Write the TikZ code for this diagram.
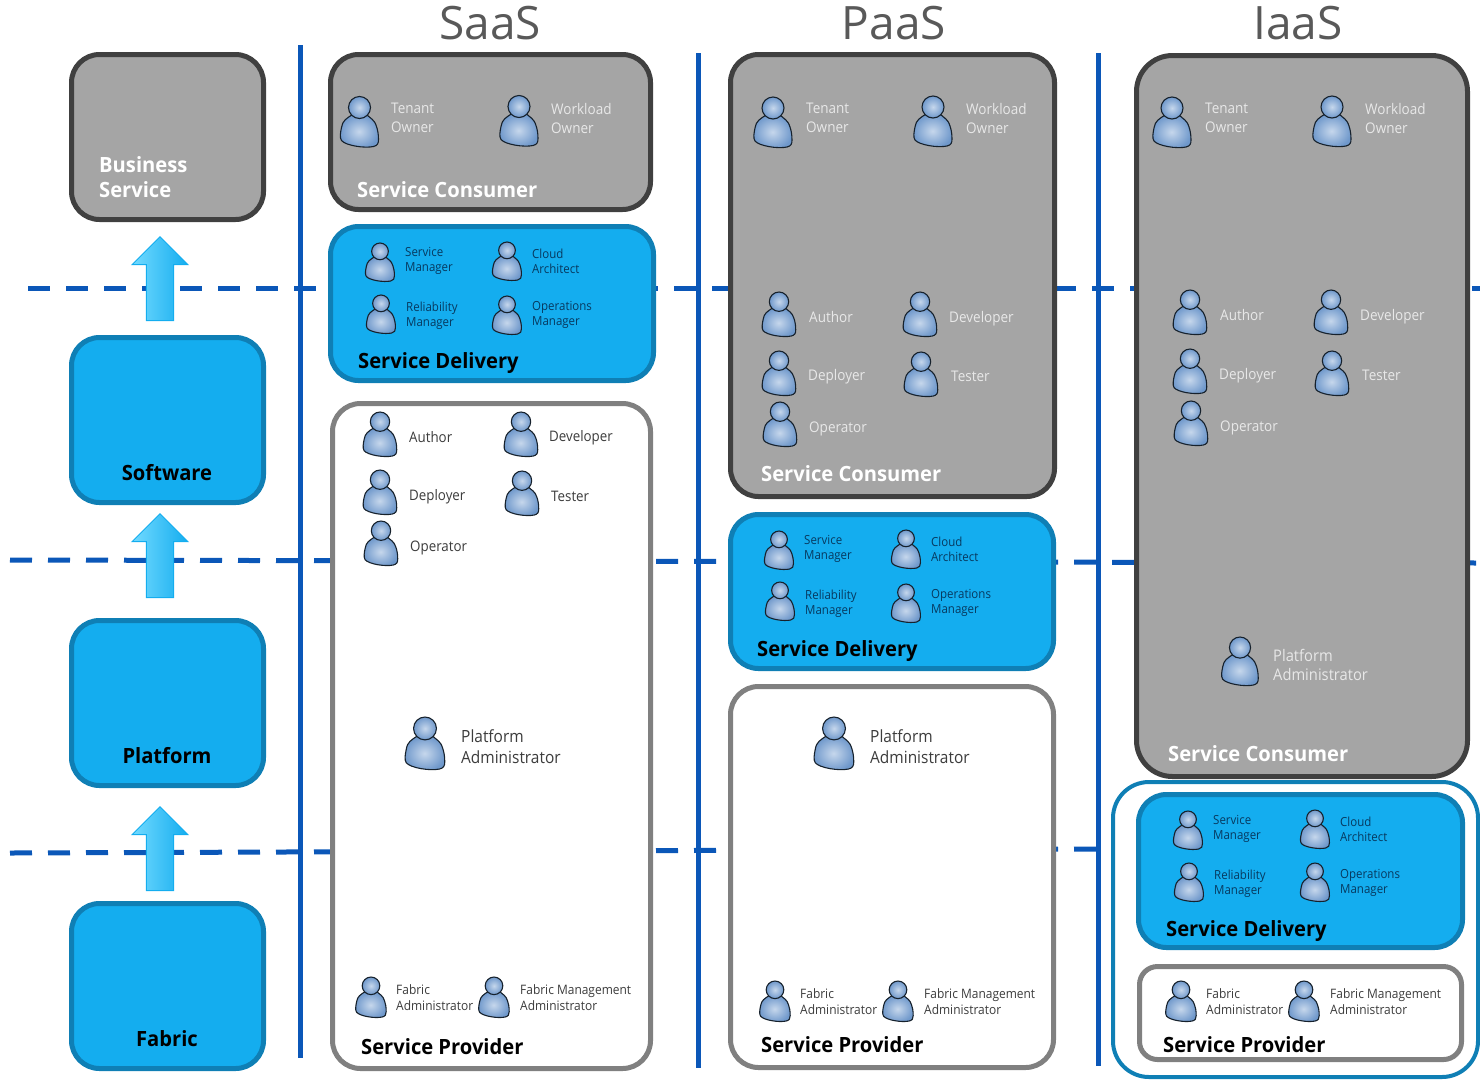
\documentclass[tikz,border=0pt]{standalone}
\usepackage{fontspec}
\setmainfont[FakeStretch=0.92,BoldFeatures={FakeStretch=0.96}]{Open Sans}
\newfontfamily\headfont{Open Sans}
\usetikzlibrary{shapes.arrows}
\definecolor{linkblue}{HTML}{0B57B8}
\definecolor{boxblue}{HTML}{14ADEF}
\definecolor{edgeblue}{HTML}{0F7FB5}
\definecolor{boxgray}{HTML}{A5A5A5}
\definecolor{edgedark}{HTML}{404040}
\definecolor{edgegray}{HTML}{808080}
\definecolor{headgray}{HTML}{595959}
\definecolor{rolelight}{HTML}{E8E8E8}
\definecolor{roledeep}{HTML}{07395F}
\definecolor{rolegrey}{HTML}{3C3C3C}
\definecolor{arrowlight}{HTML}{72DAFF}
\definecolor{skinlight}{HTML}{C6D7EC}
\definecolor{skindark}{HTML}{6F98CB}
\definecolor{skinedge}{HTML}{16212C}
\tikzset{
	person/.pic={
		\path[draw=skinedge, line width=1.1pt, inner color=skinlight, outer color=skindark]
			(-7,-7) .. controls (-13,-3) and (-17,-1) .. (-18,6)
			.. controls (-19,11) and (-20,16) .. (-18,19)
			.. controls (-14,24) and (5,27) .. (14,25)
			.. controls (18,24) and (19,22) .. (19,18)
			.. controls (19,12) and (18,8) .. (17,5)
			.. controls (15,-2) and (11,-3) .. (7,-7) -- cycle;
		\path[draw=skinedge, line width=1.1pt, inner color=skinlight, outer color=skindark]
			(0,-14) circle (11);
	},
	layerbox/.style={draw, rectangle, rounded corners=28pt, line width=5pt, inner sep=0pt},
	graybox/.style={layerbox, draw=edgedark, fill=boxgray},
	bluebox/.style={layerbox, draw=edgeblue, fill=boxblue},
	whitebox/.style={layerbox, draw=edgegray, fill=white},
	uparrow/.style={single arrow, shape border rotate=90, anchor=tip, inner sep=0pt, minimum height=84pt,
		text width=26pt, minimum width=56pt, single arrow head extend=14pt, single arrow head indent=0pt,
		draw=boxblue, line width=1pt, left color=arrowlight, right color=boxblue},
	layertitle/.style={anchor=west, font=\fontsize{21}{25}\selectfont\bfseries, inner sep=0pt, align=left},
	roletext/.style={anchor=west, inner sep=0pt, align=left},
	rolegray/.style={roletext, text=rolelight, font=\fontsize{14.7}{19}\selectfont},
	rolewhite/.style={roletext, text=rolegrey, font=\fontsize{14.5}{19}\selectfont},
	roleblue/.style={roletext, text=roledeep, font=\fontsize{12.5}{15}\selectfont},
	rolefabric/.style={roletext, text=rolegrey, font=\fontsize{13}{16}\selectfont},
	columnhead/.style={text=headgray, font=\headfont\fontsize{46}{50}\selectfont, inner sep=0pt},
}
\begin{document}
\begin{tikzpicture}[x=1pt, y=-1pt]
	\tikzset{dashline/.style={draw=linkblue, line width=5pt, dash pattern=on 22pt off 16pt}}
	\tikzset{sepline/.style={draw=linkblue, line width=5pt}}
	\useasboundingbox (0,0) rectangle (1480,1080);

	\coordinate (d1a) at (28,288);
	\coordinate (d1b) at (1480,288);
	\coordinate (d2a) at (10,560);
	\coordinate (d2b) at (1480,563);
	\coordinate (d3a) at (10,853);
	\coordinate (d3b) at (1098,849);
	\coordinate (v1a) at (300,45);
	\coordinate (v1b) at (300,1058);
	\coordinate (v2a) at (698,53);
	\coordinate (v2b) at (698,1068);
	\coordinate (v3a) at (1098,53);
	\coordinate (v3b) at (1098,1066);
	\path[dashline] (d1a) -- (d1b);
	\path[dashline] (d2a) -- (d2b);
	\path[dashline] (d3a) -- (d3b);
	\path[sepline] (v1a) -- (v1b);
	\path[sepline] (v2a) -- (v2b);
	\path[sepline] (v3a) -- (v3b);

	\node[columnhead] (saas) at (490,23) {SaaS};
	\node[columnhead] (paas) at (894,23) {PaaS};
	\node[columnhead] (iaas) at (1298,23) {IaaS};

	\node[graybox, minimum width=192pt, minimum height=165pt] (business) at (167.5,137) {};
	\node[bluebox, minimum width=192pt, minimum height=165pt] (software) at (167.5,420) {};
	\node[bluebox, minimum width=192pt, minimum height=165pt] (platform) at (167.5,703) {};
	\node[bluebox, minimum width=192pt, minimum height=165pt] (fabric) at (167.5,986) {};
	\node[layertitle, text=white] (businesst) at (99,177.5) {Business\\Service};
	\node[layertitle, anchor=center] (softwaret) at (167,473) {Software};
	\node[layertitle, anchor=center] (platformt) at (167,756) {Platform};
	\node[layertitle, anchor=center] (fabrict) at (167,1039) {Fabric};
	\node[uparrow] (up1) at (160,236) {};
	\node[uparrow] (up2) at (160,513) {};
	\node[uparrow] (up3) at (160,806) {};

	\node[graybox, minimum width=320pt, minimum height=155pt] (sconsumer) at (490.5,132) {};
	\node[bluebox, minimum width=323pt, minimum height=154pt] (sdelivery) at (492,303.5) {};
	\node[whitebox, minimum width=318pt, minimum height=665pt] (sprovider) at (491.5,736) {};
	\node[layertitle, text=white] (sconsumert) at (357,190) {Service Consumer};
	\node[layertitle] (sdeliveryt) at (358,363) {Service Delivery};
	\node[layertitle] (sprovidert) at (361,1047) {Service Provider};

	\pic at (359.5,121.5) {person};		\node[rolegray] (stenant) at (391,118) {Tenant\\Owner};
	\pic at (519,120.5) {person};		\node[rolegray] (sworkload) at (551,118) {Workload\\Owner};
	\pic[scale=.76] at (380,262) {person};	\node[roleblue] (sservice) at (405,261) {Service\\Manager};
	\pic[scale=.76] at (507,261) {person};	\node[roleblue] (scloud) at (532,261) {Cloud\\Architect};
	\pic[scale=.76] at (381,314) {person};	\node[roleblue] (sreliability) at (406,315.5) {Reliability\\Manager};
	\pic[scale=.76] at (507,315) {person};	\node[roleblue] (soperations) at (532,315) {Operations\\Manager};
	\pic[scale=.88] at (380,434) {person};	\node[rolewhite] (sauthor) at (409,437) {Author};
	\pic[scale=.88] at (521,434) {person};	\node[rolewhite] (sdeveloper) at (549,438) {Developer};
	\pic[scale=.88] at (380,492) {person};	\node[rolewhite] (sdeployer) at (409,497) {Deployer};
	\pic[scale=.88] at (522,493) {person};	\node[rolewhite] (stester) at (551,496) {Tester};
	\pic[scale=.88] at (381,543) {person};	\node[rolewhite] (soperator) at (410,548) {Operator};
	\pic[scale=1.04] at (425,743) {person};	\node[rolewhite, font=\fontsize{16.8}{21}\selectfont] (sadmin) at (461,747) {Platform\\Administrator};
	\pic[scale=.8] at (371,997) {person};	\node[rolefabric] (sfabric) at (396,998) {Fabric\\Administrator};
	\pic[scale=.8] at (494,997) {person};	\node[rolefabric] (smanagement) at (520,998) {Fabric Management\\Administrator};

	\node[graybox, minimum width=324pt, minimum height=442pt] (pconsumer) at (892.5,275.5) {};
	\node[bluebox, minimum width=323pt, minimum height=154pt] (pdelivery) at (892,591.5) {};
	\node[whitebox, minimum width=323pt, minimum height=381pt] (pprovider) at (892,877) {};
	\node[layertitle, text=white] (pconsumert) at (761,474) {Service Consumer};
	\node[layertitle] (pdeliveryt) at (757,651) {Service Delivery};
	\node[layertitle] (pprovidert) at (761,1045) {Service Provider};

	\pic at (773,122) {person};		\node[rolegray] (ptenant) at (806,118) {Tenant\\Owner};
	\pic at (933,121) {person};		\node[rolegray] (pworkload) at (966,118) {Workload\\Owner};
	\pic[scale=.88] at (779,314) {person};	\node[rolegray] (pauthor) at (809,317) {Author};
	\pic[scale=.88] at (920,314) {person};	\node[rolegray] (pdeveloper) at (949,319) {Developer};
	\pic[scale=.88] at (779,373) {person};	\node[rolegray] (pdeployer) at (808,377) {Deployer};
	\pic[scale=.88] at (921,374) {person};	\node[rolegray] (ptester) at (951,376) {Tester};
	\pic[scale=.88] at (780,424) {person};	\node[rolegray] (poperator) at (809,429) {Operator};
	\pic[scale=.76] at (779,550) {person};	\node[roleblue] (pservice) at (804,549) {Service\\Manager};
	\pic[scale=.76] at (906,549) {person};	\node[roleblue] (pcloud) at (931,549) {Cloud\\Architect};
	\pic[scale=.76] at (780,601) {person};	\node[roleblue] (preliability) at (805,603.5) {Reliability\\Manager};
	\pic[scale=.76] at (906,603) {person};	\node[roleblue] (poperations) at (931,603) {Operations\\Manager};
	\pic[scale=1.04] at (834,743) {person};	\node[rolewhite, font=\fontsize{16.8}{21}\selectfont] (padmin) at (870,747) {Platform\\Administrator};
	\pic[scale=.8] at (775,1001) {person};	\node[rolefabric] (pfabric) at (800,1002) {Fabric\\Administrator};
	\pic[scale=.8] at (898,1001) {person};	\node[rolefabric] (pmanagement) at (924,1002) {Fabric Management\\Administrator};

	\node[draw=edgeblue, rectangle, rounded corners=36pt, line width=4pt, minimum width=365pt, minimum height=295pt] (iouter) at (1295.5,929.5) {};
	\node[graybox, minimum width=331pt, minimum height=721pt, rounded corners=36pt] (iconsumer) at (1302,416) {};
	\node[bluebox, minimum width=324pt, minimum height=153pt] (idelivery) at (1300.5,871) {};
	\node[whitebox, minimum width=322pt, minimum height=93pt, rounded corners=18pt] (iprovider) at (1300.5,1013) {};
	\node[layertitle, text=white] (iconsumert) at (1168,754) {Service Consumer};
	\node[layertitle] (ideliveryt) at (1166,931) {Service Delivery};
	\node[layertitle] (iprovidert) at (1163,1045) {Service Provider};

	\pic at (1172,122) {person};		\node[rolegray] (itenant) at (1205,118) {Tenant\\Owner};
	\pic at (1332,121) {person};		\node[rolegray] (iworkload) at (1365,118) {Workload\\Owner};
	\pic[scale=.88] at (1190,312) {person};	\node[rolegray] (iauthor) at (1220,315) {Author};
	\pic[scale=.88] at (1331,312) {person};	\node[rolegray] (ideveloper) at (1360,317) {Developer};
	\pic[scale=.88] at (1190,371) {person};	\node[rolegray] (ideployer) at (1219,376) {Deployer};
	\pic[scale=.88] at (1332,373) {person};	\node[rolegray] (itester) at (1362,375) {Tester};
	\pic[scale=.88] at (1191,423) {person};	\node[rolegray] (ioperator) at (1220,428) {Operator};
	\pic[scale=.96] at (1240,661) {person};	\node[rolegray, font=\fontsize{16}{19}\selectfont] (iadmin) at (1273,665) {Platform\\Administrator};
	\pic[scale=.76] at (1188,830) {person};	\node[roleblue] (iservice) at (1213,829) {Service\\Manager};
	\pic[scale=.76] at (1315,829) {person};	\node[roleblue] (icloud) at (1340,829) {Cloud\\Architect};
	\pic[scale=.76] at (1189,882) {person};	\node[roleblue] (ireliability) at (1214,883.5) {Reliability\\Manager};
	\pic[scale=.76] at (1315,882) {person};	\node[roleblue] (ioperations) at (1340,883) {Operations\\Manager};
	\pic[scale=.8] at (1181,1001) {person};	\node[rolefabric] (ifabric) at (1206,1002) {Fabric\\Administrator};
	\pic[scale=.8] at (1304,1001) {person};	\node[rolefabric] (imanagement) at (1330,1002) {Fabric Management\\Administrator};
\end{tikzpicture}
\end{document}
